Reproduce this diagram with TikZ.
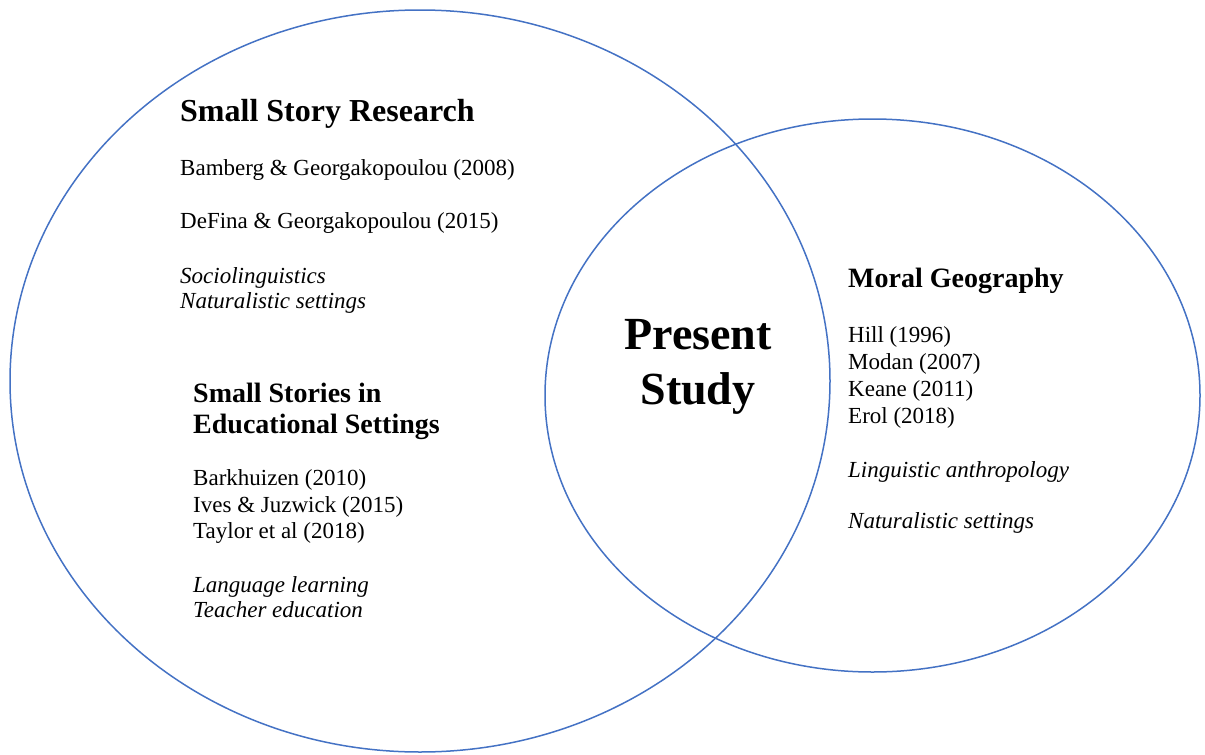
\documentclass[tikz,border=0pt]{standalone}
\usepackage{fontspec}
\setmainfont{Liberation Serif}
\definecolor{vennblue}{RGB}{68,114,196}
\begin{document}
\begin{tikzpicture}[x=1pt,y=-1pt,
  ring/.style={draw=vennblue,line width=1.5pt},
  txt/.style={anchor=base west,inner sep=0pt,font=\fontsize{23}{27}\selectfont},
  itx/.style={txt,font=\fontsize{23}{27}\selectfont\itshape},
  headA/.style={anchor=base west,inner sep=0pt,font=\fontsize{32}{36}\selectfont\bfseries},
  headB/.style={anchor=base west,inner sep=0pt,font=\fontsize{28}{32}\selectfont\bfseries},
  centre/.style={anchor=base,inner sep=0pt,font=\fontsize{46}{52}\selectfont\bfseries}]
\useasboundingbox (0,0) rectangle (1205,755);
\draw[ring] (420,381) ellipse [x radius=410,y radius=371];
\draw[ring] (872.5,395.5) ellipse [x radius=327.5,y radius=276.5];
% left circle, upper block
\node[headA] (ssr) at (180,121) {Small Story Research};
\node[txt] (bam) at (180,175) {Bamberg \& Georgakopoulou (2008)};
\node[txt] (def) at (180,228) {DeFina \& Georgakopoulou (2015)};
\node[itx] (soc) at (180,283) {Sociolinguistics};
\node[itx] (nat1) at (180,308) {Naturalistic settings};
% left circle, lower block
\node[headB] (sse1) at (193,402) {Small Stories in};
\node[headB] (sse2) at (193,433) {Educational Settings};
\node[txt] (bar) at (193,485) {Barkhuizen (2010)};
\node[txt] (ive) at (193,512) {Ives \& Juzwick (2015)};
\node[txt] (tay) at (193,538) {Taylor et al (2018)};
\node[itx] (lan) at (193,592) {Language learning};
\node[itx] (tea) at (193,617) {Teacher education};
% intersection
\node[centre] (pre) at (698,349) {Present};
\node[centre] (stu) at (698,404) {Study};
% right circle
\node[headB] (mor) at (848,287) {Moral Geography};
\node[txt] (hil) at (848,342) {Hill (1996)};
\node[txt] (mod) at (848,369) {Modan (2007)};
\node[txt] (kea) at (848,396) {Keane (2011)};
\node[txt] (ero) at (848,423) {Erol (2018)};
\node[itx] (lin) at (848,477) {Linguistic anthropology};
\node[itx] (nat2) at (848,528) {Naturalistic settings};
\end{tikzpicture}
\end{document}
